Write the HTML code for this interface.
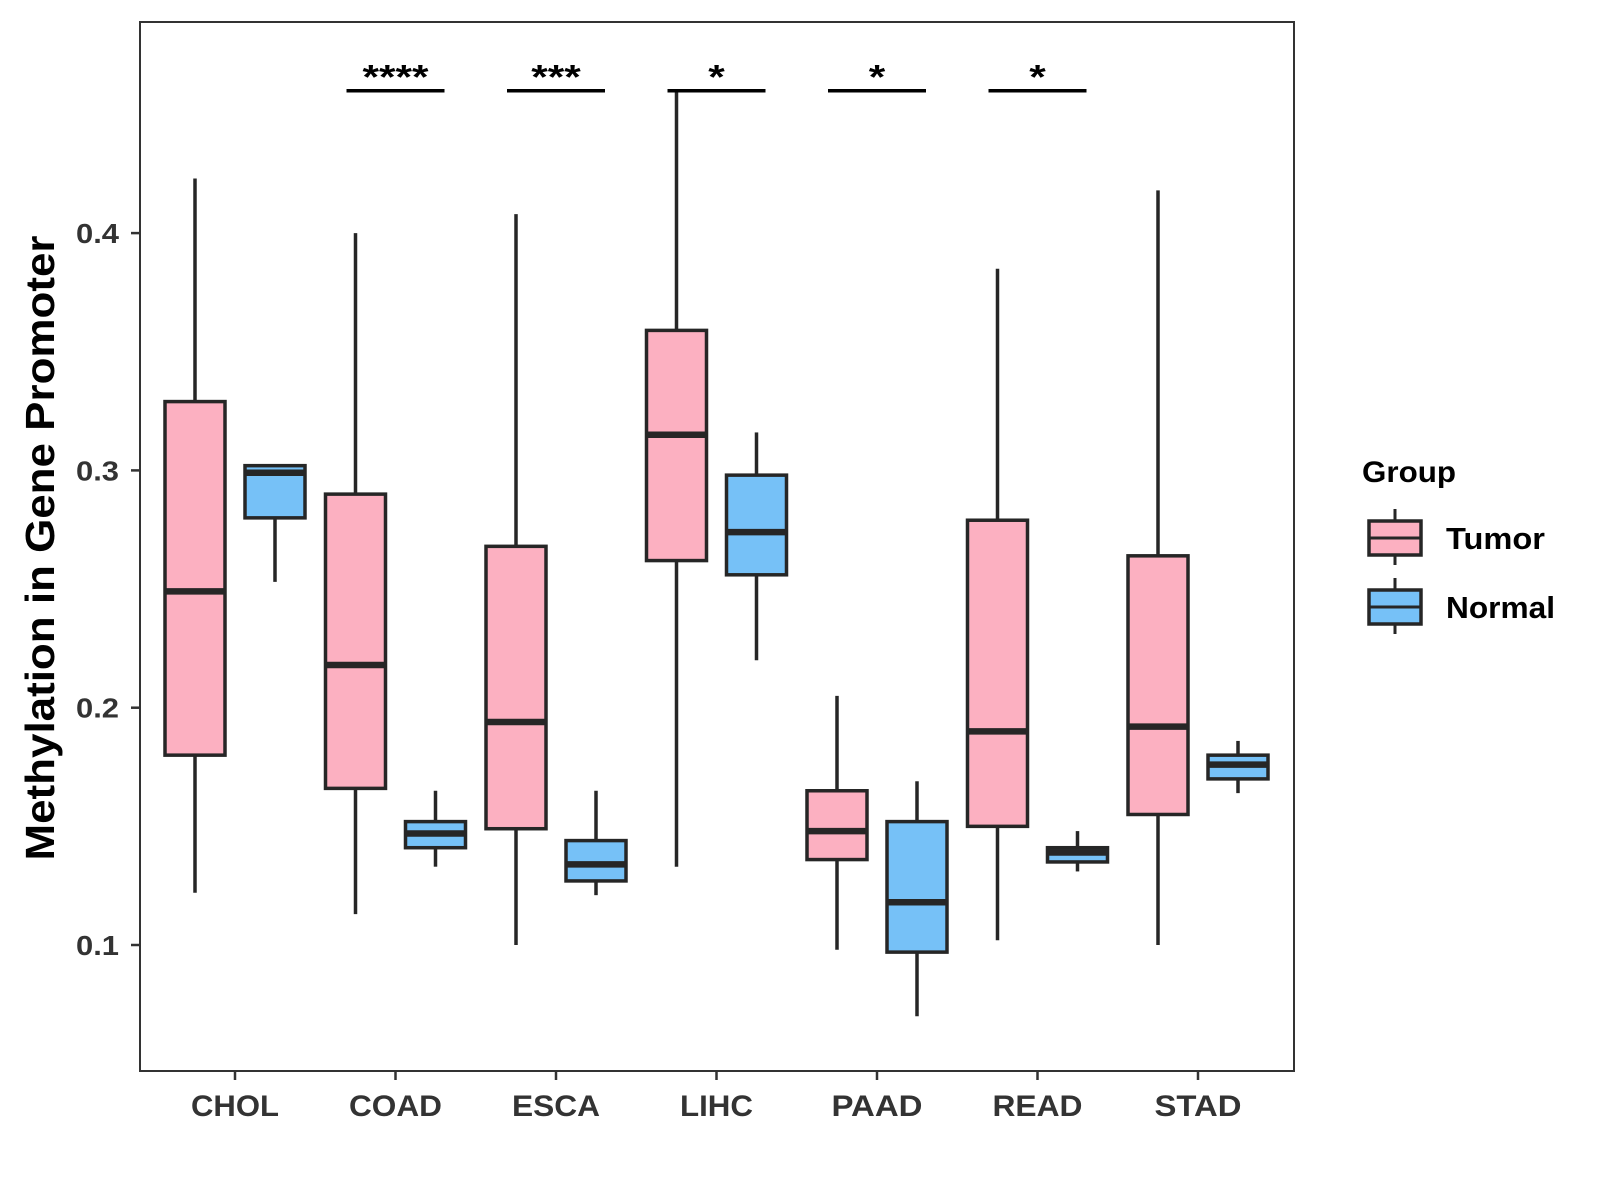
<!DOCTYPE html>
<html><head><meta charset="utf-8"><style>
html,body{margin:0;padding:0;background:#fff;}
svg{display:block;font-family:"Liberation Sans",Arial,sans-serif;}
</style></head><body>
<svg id="chart" width="1600" height="1200" viewBox="0 0 1600 1200" xmlns="http://www.w3.org/2000/svg">
<rect x="0" y="0" width="1600" height="1200" fill="#fff"/>
<g id="plot"></g>
<text x="0" y="0" transform="translate(54,548) rotate(-90)" text-anchor="middle" font-size="41" font-weight="bold" fill="#000" textLength="625" lengthAdjust="spacingAndGlyphs">Methylation in Gene Promoter</text>
<g>
<text x="1362" y="482" font-size="30" font-weight="bold" fill="#000" textLength="94" lengthAdjust="spacingAndGlyphs">Group</text>
<g>
<line x1="1395" y1="509" x2="1395" y2="565" stroke="#262626" stroke-width="3"/>
<rect x="1369" y="521" width="52" height="34" fill="#FCB0C1" stroke="#262626" stroke-width="3.5"/>
<line x1="1369" y1="538" x2="1421" y2="538" stroke="#262626" stroke-width="3"/>
<text x="1446" y="549" font-size="31" font-weight="bold" fill="#000" textLength="99" lengthAdjust="spacingAndGlyphs">Tumor</text>
</g>
<g>
<line x1="1395" y1="578" x2="1395" y2="634" stroke="#262626" stroke-width="3"/>
<rect x="1369" y="590" width="52" height="34" fill="#76C1F7" stroke="#262626" stroke-width="3.5"/>
<line x1="1369" y1="607" x2="1421" y2="607" stroke="#262626" stroke-width="3"/>
<text x="1446" y="618" font-size="31" font-weight="bold" fill="#000" textLength="109" lengthAdjust="spacingAndGlyphs">Normal</text>
</g>
</g>
</svg>
<script>
const categories = ["CHOL","COAD","ESCA","LIHC","PAAD","READ","STAD"];
// [low, q1, median, q3, high]
const tumorStats = [
 [0.122,0.180,0.249,0.329,0.423],
 [0.113,0.166,0.218,0.290,0.400],
 [0.100,0.149,0.194,0.268,0.408],
 [0.133,0.262,0.315,0.359,0.460],
 [0.098,0.136,0.148,0.165,0.205],
 [0.102,0.150,0.190,0.279,0.385],
 [0.100,0.155,0.192,0.264,0.418]
];
const normalStats = [
 [0.253,0.280,0.299,0.302,0.302],
 [0.133,0.141,0.147,0.152,0.165],
 [0.121,0.127,0.134,0.144,0.165],
 [0.220,0.256,0.274,0.298,0.316],
 [0.070,0.097,0.118,0.152,0.169],
 [0.131,0.135,0.139,0.141,0.148],
 [0.164,0.170,0.176,0.180,0.186]
];
const sigLabels = ["","****","***","*","*","*",""];
const sigLevel = 0.46;
const yTicks = [0.1,0.2,0.3,0.4];
const xLabelWidths = [88,93,88,73,91,90,87];

const NS="http://www.w3.org/2000/svg";
const plot=document.getElementById('plot');
const L=140,R=1294,T=22,B=1071;
function yScale(v){return 945-(v-0.1)*2373;}
function xScale(i){return 235+i*160.5;}
function mk(tag,attrs,parent){const e=document.createElementNS(NS,tag);for(const k in attrs)e.setAttribute(k,attrs[k]);(parent||plot).appendChild(e);return e;}

const frame=mk('rect',{x:L,y:T,width:R-L,height:B-T,fill:'none',stroke:'#333',"stroke-width":2});



yTicks.forEach(t=>{
  const y=yScale(t);
  const tk=mk('line',{x1:L-9,y1:y,x2:L,y2:y,stroke:'#333',"stroke-width":2.5});
  
  
  const tx=mk('text',{x:L-21,y:y+10,"text-anchor":"end","font-size":28,"font-weight":"bold",fill:'#333',textLength:43,lengthAdjust:'spacingAndGlyphs'});
  tx.textContent=t.toFixed(1);
  
  
});

categories.forEach((c,i)=>{
  const x=xScale(i);
  const tk=mk('line',{x1:x,y1:B,x2:x,y2:B+9,stroke:'#333',"stroke-width":2.5});
  
  
  const tx=mk('text',{x:x,y:B+45,"text-anchor":"middle","font-size":30,"font-weight":"bold",fill:'#333',textLength:xLabelWidths[i],lengthAdjust:'spacingAndGlyphs'});
  tx.textContent=c;
  
  
});

function drawBox(cx,s,fill,name){
  const g=mk('g',{});
  
  
  const w=60;
  mk('line',{x1:cx,y1:yScale(s[4]),x2:cx,y2:yScale(s[3]),stroke:'#262626',"stroke-width":3.5},g);
  mk('line',{x1:cx,y1:yScale(s[1]),x2:cx,y2:yScale(s[0]),stroke:'#262626',"stroke-width":3.5},g);
  mk('rect',{x:cx-w/2,y:yScale(s[3]),width:w,height:yScale(s[1])-yScale(s[3]),fill:fill,stroke:'#262626',"stroke-width":3.5},g);
  mk('line',{x1:cx-w/2,y1:yScale(s[2]),x2:cx+w/2,y2:yScale(s[2]),stroke:'#262626',"stroke-width":6.5},g);
}
categories.forEach((c,i)=>{
  drawBox(xScale(i)-40,tumorStats[i],'#FCB0C1','box-tumor-'+c.toLowerCase());
  drawBox(xScale(i)+40,normalStats[i],'#76C1F7','box-normal-'+c.toLowerCase());
  if(sigLabels[i]){
    const y=yScale(sigLevel);
    const ln=mk('line',{x1:xScale(i)-49,y1:y,x2:xScale(i)+49,y2:y,stroke:'#000',"stroke-width":3.5});
    
    
    const tx=mk('text',{x:xScale(i),y:y-2,"text-anchor":"middle","font-size":34,"font-weight":"bold",fill:'#000',textLength:sigLabels[i].length*16.5,lengthAdjust:'spacingAndGlyphs'});
    tx.textContent=sigLabels[i];
    
    
  }
});
</script>
</body></html>
